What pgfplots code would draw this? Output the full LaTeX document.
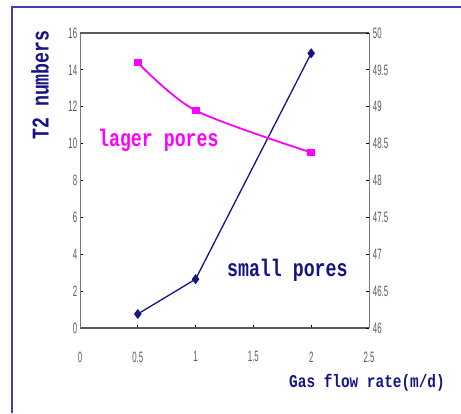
\documentclass[border=0pt]{standalone}
\usepackage{fontspec}
\setmainfont{Liberation Sans}
\newfontfamily\monob{Liberation Mono}
\usepackage{pgfplots}
\pgfplotsset{compat=1.18}
\definecolor{frameblue}{RGB}{64,64,176}
\definecolor{navy}{RGB}{20,20,130}
\definecolor{mag}{RGB}{255,0,255}
\definecolor{axgray}{RGB}{120,120,120}
\definecolor{axdark}{RGB}{90,90,90}
\definecolor{tickgray}{RGB}{90,90,90}
\begin{document}
\begin{tikzpicture}[x=1pt,y=1pt]
\useasboundingbox (0,0) rectangle (461,413);
\draw[frameblue, line width=1.5pt] (12,0) -- (12,406) -- (461,406);
\pgfplotsset{
 common/.style={scale only axis, width=289pt, height=295pt, at={(80pt,85pt)}, anchor=south west,
   xmin=0, xmax=2.5, tick align=inside, major tick length=3pt,
   /pgf/number format/assume math mode=true,
   tick style={black, line width=0.8pt},
   axis line style={axgray, line width=0.8pt},
   ticklabel style={font=\fontsize{15}{15}\selectfont, text=tickgray, xscale=0.52},
   clip=false}
}
\begin{axis}[common, axis x line*=bottom, axis y line*=left,
  ymin=0, ymax=16, ytick={0,2,4,6,8,10,12,14,16},
  xtick={0,0.5,1,1.5,2,2.5},
  x axis line style={axdark, line width=1.3pt},
  xticklabel style={yshift=-20pt},
  yticklabel style={xshift=-2pt}]
\addplot[navy, line width=1.3pt, mark=diamond*, mark size=4pt, mark options={fill=navy}]
  coordinates {(0.5,0.76) (1,2.65) (2,14.9)};
\draw[axdark, line width=2.5pt] (axis cs:0,16) -- (axis cs:2.5,16);
\end{axis}
\begin{axis}[common, axis x line=none, axis y line*=right,
  ymin=46, ymax=50, ytick={46,46.5,47,47.5,48,48.5,49,49.5,50},
  yticklabel style={anchor=west, xshift=4pt}]
\addplot[mag, line width=1.8pt, smooth, mark=square*, mark size=3pt, mark options={fill=mag}]
  coordinates {(0.5,49.6) (1,48.95) (2,48.38)};
\end{axis}
\node[rotate=90, text=navy, font=\monob\bfseries\fontsize{24}{24}\selectfont, xscale=0.76] at (40,328) {T2 numbers};
\node[anchor=base west, inner sep=0, text=mag, font=\monob\bfseries\fontsize{24}{24}\selectfont, xscale=0.76] at (98,266) {lager pores};
\node[anchor=base west, inner sep=0, text=navy, font=\monob\bfseries\fontsize{24}{24}\selectfont, xscale=0.76] at (227,136) {small pores};
\node[text=navy, font=\monob\bfseries\fontsize{18}{18}\selectfont, xscale=0.8] at (367,30) {Gas flow rate(m/d)};
\end{tikzpicture}
\end{document}
